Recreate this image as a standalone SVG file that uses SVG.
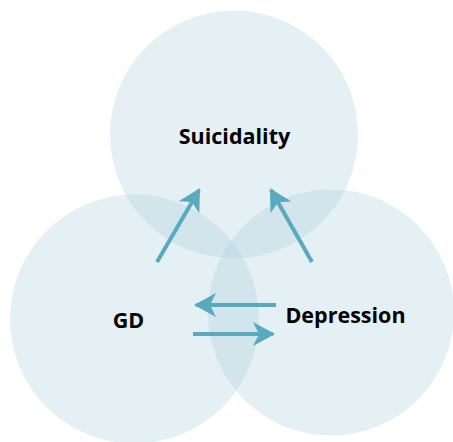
<svg xmlns="http://www.w3.org/2000/svg" width="453" height="442" viewBox="0 0 453 442">
<style>
.c{fill:#a8cdda;fill-opacity:0.3}
.t{font-family:"Open Sans","Noto Sans",sans-serif;font-weight:bold;font-size:21.5px;fill:#000}
.a{stroke:#5aaabf;stroke-width:4;fill:none}
</style>
<defs>
<marker id="ah" markerUnits="userSpaceOnUse" markerWidth="24" markerHeight="26" refX="20" refY="12" orient="auto" viewBox="0 0 24 24">
<path d="M0,0 L22,12 L0,24 L6,12 Z" fill="#5aaabf"/>
</marker>
</defs>
<rect width="453" height="442" fill="#fff"/>
<g id="suicidality">
<circle class="c" cx="234" cy="134.5" r="124"/>
<text class="t" x="234.5" y="144" text-anchor="middle">Suicidality</text>
</g>
<g id="gd">
<circle class="c" cx="134.5" cy="319" r="124.5"/>
<text class="t" x="128.5" y="328" text-anchor="middle">GD</text>
</g>
<g id="depression">
<circle class="c" cx="331" cy="312.5" r="123"/>
<text class="t" x="345.5" y="323" text-anchor="middle">Depression</text>
</g>
<g id="connectors">
<line class="a" x1="157" y1="262" x2="199" y2="190" marker-end="url(#ah)"/>
<line class="a" x1="312" y1="262" x2="271" y2="190" marker-end="url(#ah)"/>
<line class="a" x1="276" y1="305" x2="196" y2="305" marker-end="url(#ah)"/>
<line class="a" x1="193" y1="334" x2="273" y2="334" marker-end="url(#ah)"/>
</g>
</svg>
